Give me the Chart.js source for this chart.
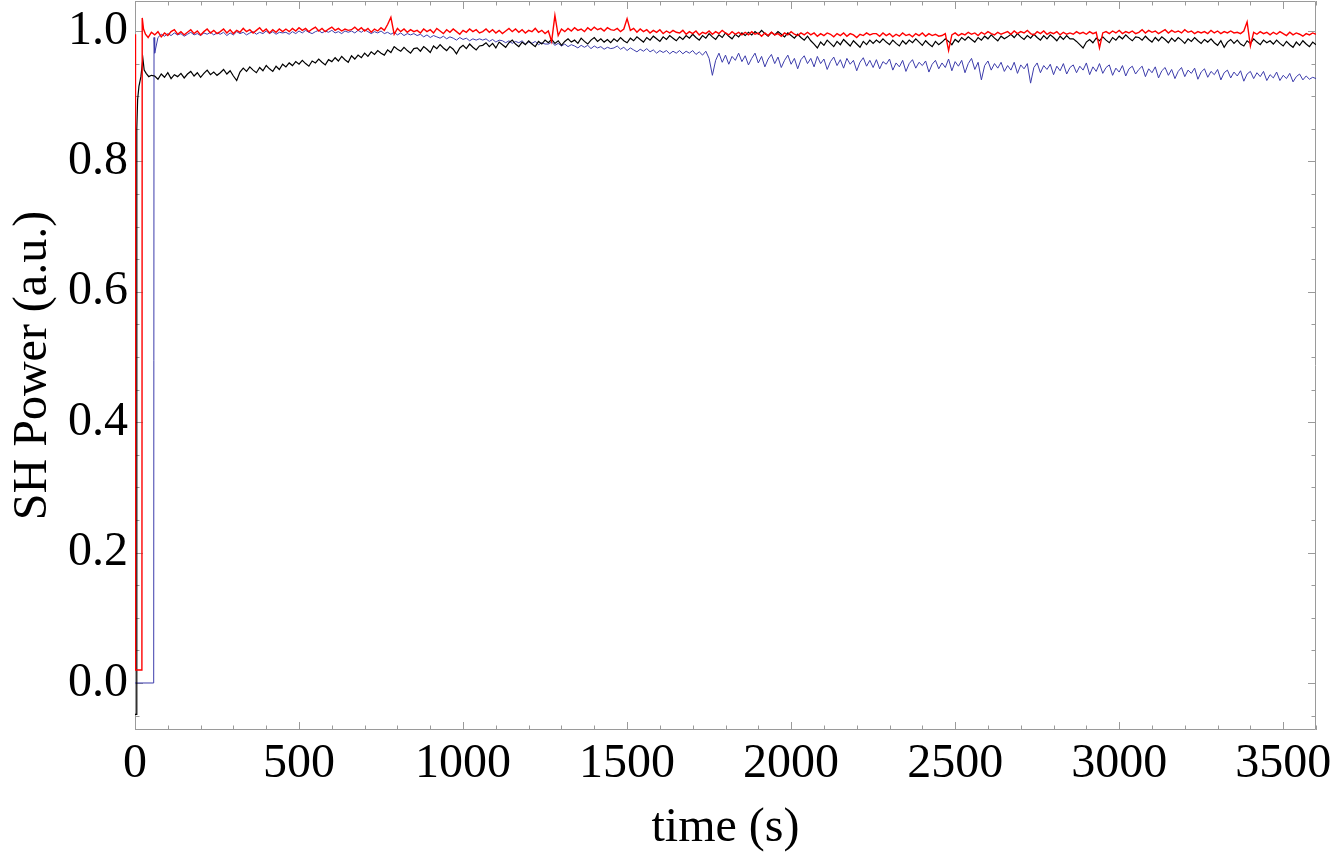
<!DOCTYPE html>
<html><head><meta charset="utf-8">
<script src="https://cdn.jsdelivr.net/npm/chart.js@4.4.1/dist/chart.umd.min.js"></script>
<style>html,body{margin:0;padding:0;background:#fff}canvas{display:block}</style>
</head><body><canvas id="c" width="1334" height="860"></canvas>
<script>
// ---- tick labels ----
const xTicks = [0, 500, 1000, 1500, 2000, 2500, 3000, 3500];
const xMinor = [100,200,300,400,600,700,800,900,1100,1200,1300,1400,1600,1700,1800,1900,2100,2200,2300,2400,2600,2700,2800,2900,3100,3200,3300,3400,3600];
const yTicks = [0.0, 0.2, 0.4, 0.6, 0.8, 1.0];
const yMinor = [-0.05,0.05,0.1,0.15,0.25,0.3,0.35,0.45,0.5,0.55,0.65,0.7,0.75,0.85,0.9,0.95];

// ---- sample times (s) ----
const times = [
  60,70,80,90,100,110,120,130,140,150,160,170,180,190,200,210,220,230,240,250,
  260,270,280,290,300,310,320,330,340,350,360,370,380,390,400,410,420,430,440,450,
  460,470,480,490,500,510,520,530,540,550,560,570,580,590,600,610,620,630,640,650,
  660,670,680,690,700,710,720,730,740,750,760,770,780,790,800,810,820,830,840,850,
  860,870,880,890,900,910,920,930,940,950,960,970,980,990,1000,1010,1020,1030,1040,1050,
  1060,1070,1080,1090,1100,1110,1120,1130,1140,1150,1160,1170,1180,1190,1200,1210,1220,1230,1240,1250,
  1260,1270,1280,1290,1300,1310,1320,1330,1340,1350,1360,1370,1380,1390,1400,1410,1420,1430,1440,1450,
  1460,1470,1480,1490,1500,1510,1520,1530,1540,1550,1560,1570,1580,1590,1600,1610,1620,1630,1640,1650,
  1660,1670,1680,1690,1700,1710,1720,1730,1740,1750,1760,1770,1780,1790,1800,1810,1820,1830,1840,1850,
  1860,1870,1880,1890,1900,1910,1920,1930,1940,1950,1960,1970,1980,1990,2000,2010,2020,2030,2040,2050,
  2060,2070,2080,2090,2100,2110,2120,2130,2140,2150,2160,2170,2180,2190,2200,2210,2220,2230,2240,2250,
  2260,2270,2280,2290,2300,2310,2320,2330,2340,2350,2360,2370,2380,2390,2400,2410,2420,2430,2440,2450,
  2460,2470,2480,2490,2500,2510,2520,2530,2540,2550,2560,2570,2580,2590,2600,2610,2620,2630,2640,2650,
  2660,2670,2680,2690,2700,2710,2720,2730,2740,2750,2760,2770,2780,2790,2800,2810,2820,2830,2840,2850,
  2860,2870,2880,2890,2900,2910,2920,2930,2940,2950,2960,2970,2980,2990,3000,3010,3020,3030,3040,3050,
  3060,3070,3080,3090,3100,3110,3120,3130,3140,3150,3160,3170,3180,3190,3200,3210,3220,3230,3240,3250,
  3260,3270,3280,3290,3300,3310,3320,3330,3340,3350,3360,3370,3380,3390,3400,3410,3420,3430,3440,3450,
  3460,3470,3480,3490,3500,3510,3520,3530,3540,3550,3560,3570,3580,3590,3600
];

// ---- start-up transients ----
const blackHeadT = [0, 4, 5, 6, 8, 12, 18, 24, 28, 34, 42, 50];
const blackHeadV = [-0.048, -0.048, 0.30, 0.85, 0.895, 0.915, 0.93, 0.958, 0.94, 0.935, 0.93, 0.932];
const redHeadT = [0, 1, 2, 21, 22, 26, 32, 40, 50];
const redHeadV = [0.995, 0.5, 0.02, 0.02, 1.02, 1.003, 0.995, 0.99, 0.998];
const blueHeadT = [0, 57, 58];
const blueHeadV = [0.0, 0.0, 0.99];

// ---- series values (same order as times) ----
const black = [
  0.931,0.926,0.934,0.929,0.936,0.927,0.933,0.930,0.935,0.928,0.934,0.938,0.931,0.936,0.929,0.935,0.940,0.933,0.937,0.932,
  0.936,0.941,0.934,0.939,0.931,0.924,0.937,0.943,0.938,0.945,0.940,0.936,0.944,0.939,0.947,0.942,0.938,0.946,0.941,0.949,
  0.945,0.951,0.947,0.953,0.949,0.955,0.950,0.946,0.954,0.951,0.957,0.952,0.948,0.956,0.953,0.959,0.954,0.961,0.956,0.952,
  0.962,0.957,0.963,0.959,0.966,0.961,0.968,0.964,0.970,0.966,0.963,0.971,0.967,0.976,0.972,0.969,0.975,0.970,0.966,0.973,
  0.974,0.969,0.976,0.972,0.967,0.977,0.973,0.979,0.974,0.970,0.976,0.972,0.965,0.974,0.978,0.973,0.980,0.975,0.971,0.977,
  0.978,0.982,0.976,0.981,0.974,0.983,0.979,0.975,0.982,0.986,0.980,0.976,0.983,0.979,0.985,0.980,0.976,0.984,0.980,0.986,
  0.982,0.987,0.981,0.985,0.978,0.984,0.988,0.983,0.986,0.981,0.989,0.984,0.980,0.986,0.990,0.984,0.988,0.983,0.987,0.982,
  0.988,0.984,0.990,0.985,0.982,0.989,0.985,0.991,0.987,0.983,0.990,0.986,0.992,0.988,0.984,0.991,0.987,0.993,0.989,0.985,
  0.991,0.987,0.993,0.989,0.995,0.990,0.986,0.993,0.989,0.996,0.991,0.987,0.994,0.990,0.997,0.992,0.988,0.995,0.991,0.997,
  0.993,0.998,0.994,0.999,0.995,1.001,0.996,0.992,0.998,0.994,0.999,0.995,0.991,0.997,0.993,0.989,0.995,0.990,0.986,0.992,
  0.985,0.980,0.974,0.983,0.978,0.986,0.981,0.976,0.984,0.979,0.987,0.982,0.977,0.985,0.980,0.975,0.984,0.979,0.986,0.981,
  0.986,0.982,0.988,0.983,0.979,0.986,0.981,0.977,0.985,0.980,0.986,0.982,0.988,0.983,0.978,0.985,0.980,0.976,0.984,0.979,
  0.983,0.988,0.984,0.979,0.987,0.983,0.990,0.986,0.991,0.987,0.983,0.990,0.986,0.992,0.988,0.994,0.989,0.985,0.992,0.988,
  0.991,0.995,0.990,0.996,0.991,0.987,0.993,0.989,0.995,0.990,0.986,0.993,0.988,0.994,0.990,0.985,0.992,0.987,0.993,0.988,
  0.988,0.984,0.979,0.974,0.983,0.987,0.982,0.989,0.985,0.991,0.986,0.982,0.990,0.986,0.992,0.988,0.994,0.989,0.985,0.991,
  0.990,0.986,0.992,0.987,0.983,0.990,0.985,0.991,0.987,0.982,0.989,0.984,0.990,0.986,0.981,0.988,0.984,0.990,0.985,0.981,
  0.987,0.983,0.988,0.982,0.978,0.985,0.975,0.983,0.987,0.981,0.986,0.980,0.977,0.985,0.981,0.988,0.983,0.979,0.986,0.982,
  0.985,0.980,0.986,0.981,0.977,0.984,0.979,0.975,0.983,0.978,0.985,0.980,0.976,0.983,0.979
];
const red = [
  0.994,0.999,0.991,0.997,0.993,0.999,1.002,0.995,0.999,0.994,0.998,1.002,0.996,1.000,0.994,0.999,1.003,0.997,1.001,0.996,
  0.999,1.003,0.997,1.002,0.996,1.001,0.998,1.004,0.999,1.002,0.997,1.001,1.005,0.999,1.003,0.997,1.002,0.998,1.003,0.999,
  1.003,0.999,1.004,1.000,1.005,1.001,1.004,0.999,1.003,1.006,1.000,1.004,0.999,1.003,1.006,1.001,1.004,1.000,1.003,1.001,
  1.002,1.006,1.001,1.005,1.000,1.004,0.998,1.003,1.000,1.005,1.001,1.010,1.021,0.995,1.004,0.999,1.003,0.998,1.002,0.999,
  1.001,0.997,1.003,0.999,1.002,0.997,1.004,1.000,0.996,1.002,0.998,1.003,0.999,0.995,1.001,0.998,1.003,0.999,1.002,0.997,
  0.999,1.003,0.998,1.002,0.997,1.001,0.996,1.000,1.004,0.999,1.003,0.998,1.002,0.997,1.001,0.999,1.004,0.998,1.001,0.996,
  1.000,0.984,1.024,0.993,1.003,0.999,1.004,1.000,1.005,1.001,1.003,0.999,1.005,1.001,1.006,1.002,1.004,1.000,1.005,1.002,
  1.001,1.004,0.999,1.003,1.019,1.001,1.004,0.998,1.003,0.999,1.002,0.997,1.001,0.998,1.002,0.996,1.000,0.997,1.001,0.998,
  0.997,1.001,0.995,0.999,0.996,1.000,0.994,0.998,0.996,1.000,0.995,0.999,0.996,1.001,0.997,0.994,0.999,0.995,0.998,0.994,
  0.998,0.994,0.999,0.995,0.997,0.992,0.997,0.993,0.998,0.994,0.996,0.992,0.997,0.994,0.999,0.995,0.993,0.997,0.994,0.998,
  0.994,0.997,0.992,0.996,0.993,0.997,0.995,0.991,0.996,0.993,0.997,0.992,0.996,0.994,0.990,0.995,0.993,0.997,0.994,0.996,
  0.996,0.992,0.997,0.993,0.996,0.991,0.995,0.992,0.997,0.993,0.995,0.991,0.996,0.993,0.997,0.992,0.996,0.993,0.995,0.992,
  0.993,0.996,0.970,0.994,0.997,0.993,0.996,0.994,0.998,0.995,0.997,0.993,0.998,0.995,0.999,0.996,0.994,0.998,0.995,0.997,
  0.999,0.995,1.000,0.996,0.999,0.997,1.001,0.996,0.994,0.999,0.996,1.000,0.995,0.998,0.996,0.999,0.994,0.998,0.995,0.997,
  0.995,0.999,0.996,0.998,0.995,0.999,0.996,0.998,0.974,0.997,0.999,0.996,1.000,0.997,1.001,0.996,0.999,0.997,1.000,0.996,
  0.998,1.002,0.997,1.001,0.998,1.000,0.996,0.999,1.002,0.997,1.001,0.998,1.000,0.997,1.002,0.998,1.000,0.996,0.999,0.997,
  0.999,0.996,1.001,0.997,1.000,0.996,0.999,0.997,1.000,0.997,0.998,0.996,1.000,1.014,0.977,0.998,0.995,0.999,0.996,0.998,
  0.994,0.998,0.995,0.999,0.996,0.993,0.998,0.994,0.997,0.995,0.992,0.996,0.994,0.997,0.995
];
const blue = [
  0.966,0.990,0.995,0.992,0.996,0.993,0.997,0.994,0.996,0.992,0.995,0.998,0.994,0.996,0.993,0.997,0.995,0.998,0.994,0.997,
  0.995,0.998,0.993,0.997,0.994,0.999,0.996,0.998,0.994,0.997,0.999,0.995,0.998,0.996,1.000,0.996,0.999,0.995,0.998,0.997,
  0.998,0.995,0.999,0.996,1.000,0.997,1.001,0.998,0.996,0.999,1.001,0.997,1.000,0.998,1.001,0.997,0.999,0.996,1.000,0.998,
  1.000,0.997,1.001,0.998,1.002,0.999,0.996,0.999,0.997,1.000,0.996,0.998,0.995,0.998,0.994,0.997,0.993,0.996,0.994,0.996,
  0.993,0.995,0.991,0.994,0.990,0.993,0.991,0.989,0.992,0.988,0.991,0.989,0.986,0.990,0.987,0.989,0.985,0.988,0.986,0.988,
  0.986,0.988,0.984,0.987,0.983,0.986,0.985,0.982,0.985,0.981,0.984,0.982,0.985,0.980,0.983,0.981,0.984,0.979,0.982,0.980,
  0.980,0.983,0.978,0.981,0.977,0.980,0.976,0.979,0.977,0.974,0.978,0.975,0.978,0.973,0.977,0.974,0.976,0.972,0.975,0.973,
  0.974,0.977,0.972,0.975,0.970,0.974,0.971,0.968,0.972,0.969,0.973,0.968,0.971,0.966,0.970,0.967,0.970,0.965,0.969,0.966,
  0.970,0.965,0.969,0.966,0.970,0.964,0.968,0.963,0.969,0.958,0.932,0.955,0.966,0.952,0.963,0.949,0.961,0.955,0.966,0.953,
  0.962,0.948,0.958,0.966,0.951,0.961,0.945,0.957,0.964,0.950,0.960,0.944,0.955,0.963,0.949,0.958,0.942,0.956,0.962,0.950,
  0.958,0.945,0.961,0.950,0.957,0.941,0.953,0.960,0.947,0.956,0.943,0.958,0.949,0.955,0.939,0.952,0.959,0.946,0.955,0.944,
  0.956,0.942,0.953,0.949,0.957,0.940,0.951,0.945,0.955,0.938,0.950,0.956,0.943,0.952,0.947,0.954,0.937,0.949,0.955,0.942,
  0.951,0.944,0.957,0.939,0.953,0.946,0.955,0.936,0.950,0.958,0.941,0.952,0.925,0.947,0.954,0.940,0.950,0.943,0.952,0.938,
  0.947,0.940,0.952,0.935,0.948,0.942,0.950,0.920,0.944,0.951,0.936,0.947,0.941,0.949,0.933,0.946,0.939,0.950,0.934,0.944,
  0.948,0.936,0.946,0.940,0.951,0.933,0.945,0.938,0.950,0.935,0.944,0.948,0.932,0.943,0.937,0.947,0.931,0.942,0.946,0.934,
  0.941,0.946,0.930,0.942,0.936,0.945,0.928,0.939,0.944,0.932,0.941,0.927,0.938,0.944,0.930,0.940,0.935,0.943,0.926,0.937,
  0.942,0.929,0.938,0.933,0.941,0.925,0.936,0.940,0.928,0.937,0.931,0.939,0.923,0.934,0.938,0.927,0.936,0.930,0.938,0.924,
  0.933,0.928,0.937,0.924,0.932,0.927,0.935,0.922,0.930,0.934,0.925,0.931,0.926,0.929,0.927
];

function series(headT, headV, vals) {
  return headT.map((t, i) => ({x: t, y: headV[i]}))
    .concat(times.map((t, i) => ({x: t, y: vals[i]})));
}

const FONT = '"Liberation Serif", "DejaVu Serif", serif';
Chart.defaults.font.family = FONT;

const frameColor = '#9a9a9a';
const framePlugin = {
  id: 'frame',
  beforeDatasetsDraw(chart) {
    const {ctx, chartArea: a, scales: {x, y}} = chart;
    ctx.save();
    ctx.strokeStyle = frameColor;
    ctx.lineWidth = 1;
    ctx.beginPath();
    ctx.rect(a.left + 0.5, a.top + 0.5, a.right - a.left - 1, a.bottom - a.top - 1);
    const xt = (v, len) => {
      const p = Math.round(x.getPixelForValue(v)) + 0.5;
      ctx.moveTo(p, a.bottom); ctx.lineTo(p, a.bottom - len);
      ctx.moveTo(p, a.top); ctx.lineTo(p, a.top + len);
    };
    const yt = (v, len) => {
      const p = Math.round(y.getPixelForValue(v)) + 0.5;
      ctx.moveTo(a.left, p); ctx.lineTo(a.left + len, p);
      ctx.moveTo(a.right, p); ctx.lineTo(a.right - len, p);
    };
    xTicks.forEach(v => xt(v, 8));
    xMinor.forEach(v => xt(v, 4.5));
    yTicks.forEach(v => yt(v, 8));
    yMinor.forEach(v => yt(v, 4.5));
    ctx.stroke();
    ctx.restore();
  }
};

new Chart(document.getElementById('c'), {
  type: 'line',
  data: {
    datasets: [
      {label: 'red', data: series(redHeadT, redHeadV, red), borderColor: '#ff0000', borderWidth: 1.4},
      {label: 'black', data: series(blackHeadT, blackHeadV, black), borderColor: '#000000', borderWidth: 1.2},
      {label: 'blue', data: series(blueHeadT, blueHeadV, blue), borderColor: '#3c3cab', borderWidth: 1.0}
    ]
  },
  options: {
    responsive: false,
    animation: false,
    events: [],
    layout: {padding: {top: 1, right: 18, left: 0, bottom: 0}},
    elements: {point: {radius: 0}, line: {tension: 0, fill: false}},
    plugins: {legend: {display: false}, tooltip: {enabled: false}},
    scales: {
      x: {
        type: 'linear', position: 'bottom', min: 0, max: 3600,
        grid: {display: false, drawTicks: false}, border: {display: false},
        ticks: {font: {size: 48, family: FONT}, color: '#000', padding: 6, maxRotation: 0, autoSkip: false,
                callback: v => String(v)},
        afterBuildTicks: s => { s.ticks = xTicks.map(v => ({value: v})); },
        afterFit: s => { s.height = 130; s.paddingLeft = 0; s.paddingRight = 0; },
        title: {display: true, text: 'time (s)', font: {size: 48, family: FONT}, color: '#000', padding: {top: 0, bottom: 3}}
      },
      y: {
        type: 'linear', position: 'left', min: -0.0721, max: 1.046,
        grid: {display: false, drawTicks: false}, border: {display: false},
        ticks: {font: {size: 48, family: FONT}, color: '#000', padding: 7, autoSkip: false,
                callback: v => Number(v).toFixed(1)},
        afterBuildTicks: s => { s.ticks = yTicks.map(v => ({value: v})); },
        afterFit: s => { s.width = 135; s.paddingTop = 0; s.paddingBottom = 0; },
        title: {display: true, text: 'SH Power (a.u.)', font: {size: 48, family: FONT}, color: '#000', padding: {top: 5, bottom: 0}}
      }
    }
  },
  plugins: [framePlugin]
});
</script>
</body></html>
